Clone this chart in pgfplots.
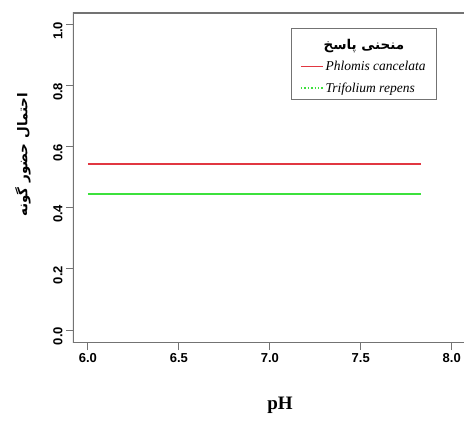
\documentclass[border=0pt]{standalone}
\usepackage{fontspec}
\usepackage{pgfplots}
\pgfplotsset{compat=1.18}
\setmainfont{Liberation Serif}
\newfontfamily\tickfont{Liberation Sans}
\newfontfamily\arabicfont[Script=Arabic]{DejaVu Sans}
\TeXXeTstate=1
\definecolor{rred}{RGB}{225,55,65}
\definecolor{rgreen}{RGB}{60,225,60}
\definecolor{axgray}{RGB}{115,115,115}
\begin{document}
\begin{tikzpicture}
\useasboundingbox (0,0) rectangle (464pt,421pt);
\clip (0,0) rectangle (464pt,421pt);
\begin{axis}[
  at={(73pt,78pt)}, anchor=south west,
  width=392pt, height=330pt, scale only axis,
  xmin=5.918, xmax=8.073, ymin=-0.0426, ymax=1.039,
  axis line style={draw=none},
  xtick={6,6.5,7,7.5,8}, ytick={0,0.2,0.4,0.6,0.8,1},
  xtick pos=bottom, ytick pos=left,
  tick align=outside, major tick length=7pt,
  tick style={axgray, line width=1pt},
  /pgf/number format/assume math mode=true,
  /pgf/number format/.cd, fixed, fixed zerofill, precision=1, /pgfplots/.cd,
  ticklabel style={font=\tickfont\bfseries\fontsize{13}{13}\selectfont},
  yticklabel style={rotate=90, anchor=south, xshift=-6pt},
  xlabel={\bfseries\fontsize{19}{19}\selectfont pH},
  xlabel style={at={(axis description cs:0.528,-0.188)}, anchor=center},
  ylabel={\arabicfont\bfseries\fontsize{13.5}{13.5}\selectfont\beginR احتمال حضور گونه\endR},
  ylabel style={at={(axis description cs:-0.1276,0.57)}, anchor=center},
  legend style={at={(rel axis cs:0.929,0.955)}, anchor=north east,
    font=\itshape\fontsize{13.5}{14}\selectfont,
    inner xsep=9pt, inner ysep=4pt, row sep=6.5pt},
  legend cell align=left,
  every axis legend/.append style={draw=axgray, line width=0.9pt},
]
\addplot[rred, line width=2.2pt, forget plot] coordinates {(6,0.545) (7.833,0.545)};
\addplot[rgreen, line width=2.2pt, forget plot] coordinates {(6,0.445) (7.833,0.445)};
\addlegendimage{empty legend}
\addlegendentry{\upshape\arabicfont\bfseries\fontsize{13.5}{13.5}\selectfont\hspace{-2pt}\rule[-7pt]{0pt}{22pt}\hbox{\beginR منحنی پاسخ\endR}}
\addlegendimage{legend image code/.code={\draw[rred, line width=1.4pt] (0pt,0pt) -- (22pt,0pt);}}
\addlegendentry{Phlomis cancelata}
\addlegendimage{legend image code/.code={\draw[rgreen, line width=1.4pt, dotted] (0pt,0pt) -- (22pt,0pt);}}
\addlegendentry{Trifolium repens}
\draw[axgray, line width=1.3pt] (rel axis cs:1.1,1) -- (rel axis cs:0,1) -- (rel axis cs:0,0) -- (rel axis cs:1.1,0);
\end{axis}
\end{tikzpicture}
\end{document}
